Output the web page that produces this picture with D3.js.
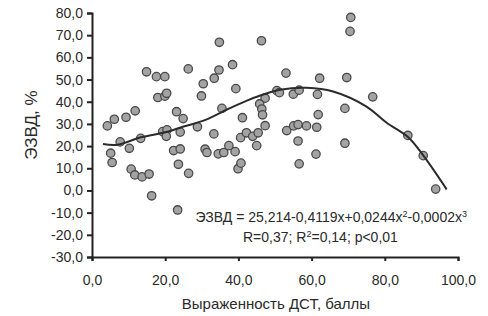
<!DOCTYPE html>
<html>
<head>
<meta charset="utf-8">
<script src="https://cdn.jsdelivr.net/npm/d3@7"></script>
<style>
  body { margin: 0; background: #fff; }
  text { font-family: "Liberation Sans", Arial, sans-serif; fill: #2a2a2a; }
</style>
</head>
<body>
<script>
// valeurs : score DST (x) et ЭЗВД % (y)
const dstScores = [4.2, 6.1, 9.3, 11.8, 14.9, 17.6, 19.9, 18.0, 19.9, 20.4, 26.3, 23.1, 24.9, 28.8, 30.4,
  29.9, 33.4, 34.7, 34.8, 35.5, 38.4, 39.3, 41.1, 33.3, 13.3, 19.3, 20.5, 24.1, 40.6, 42.2,
  7.7, 5.1, 5.5, 10.2, 10.7, 11.7, 13.7, 15.6, 16.3, 20.3, 22.3, 24.1, 23.6, 26.4, 23.4,
  30.9, 31.4, 34.5, 36.0, 37.4, 39.1, 39.9, 40.7, 43.9, 45.4, 45.0, 46.3, 53.0, 50.5, 51.2,
  55.0, 56.6, 47.3, 45.8, 46.4, 46.6, 47.3, 53.2, 55.1, 56.3, 58.6, 61.4, 56.3, 56.6, 61.6,
  62.2, 69.6, 70.7, 70.5, 61.8, 69.1, 69.1, 61.2, 76.7, 86.3, 90.5, 93.9]
const ezvdValues = [29.1, 32.1, 33.0, 35.9, 53.5, 51.3, 51.3, 41.9, 42.5, 43.8, 54.8, 35.5, 32.4, 28.7, 48.1,
  42.6, 50.6, 54.3, 66.8, 37.0, 56.7, 45.9, 32.8, 25.5, 23.5, 26.5, 27.3, 26.3, 23.8, 26.0,
  21.9, 16.8, 12.6, 19.0, 9.6, 7.0, 6.1, 7.4, -2.4, 24.4, 18.0, 18.7, 11.8, 7.7, -8.8,
  18.6, 17.1, 16.5, 17.1, 20.2, 17.5, 9.8, 12.3, 24.4, 26.0, 20.2, 67.5, 52.9, 45.0, 44.1,
  43.4, 45.2, 41.6, 39.0, 36.7, 34.1, 29.2, 27.0, 29.1, 29.7, 29.1, 28.5, 22.3, 12.0, 43.3,
  50.6, 50.9, 78.0, 71.7, 34.2, 37.0, 21.3, 16.4, 42.2, 24.8, 15.7, 0.6]

const trendX = [3, 7, 13.4, 20, 25, 31, 37, 42, 46.4, 51.4, 58.7, 65.9, 75, 80.5, 86.4, 90.5, 96.9]
const trendY = [20.9, 20.6, 24.0, 26.2, 28.8, 31.8, 36.6, 40.3, 43.0, 45.4, 46.3, 44.6, 37.8, 30.5, 24.0, 15.8, 0.5]

const xTicks = [0, 20, 40, 60, 80, 100]
const yTicks = [-30, -20, -10, 0, 10, 20, 30, 40, 50, 60, 70, 80]

const width = 488
const height = 316
const plot = { left: 92, right: 458, top: 13, bottom: 257 }

// format russe : virgule décimale, tiret simple
const locale = d3.formatLocale({ decimal: ",", thousands: " ", grouping: [3], currency: ["", ""], minus: "-" })
const fmt = locale.format(".1f")

let svg = d3.select("body")
  .append("svg")
  .attr("width", width)
  .attr("height", height)

let x = d3.scaleLinear().domain([0, 100]).range([plot.left, plot.right])
let y = d3.scaleLinear().domain([-30, 80]).range([plot.bottom, plot.top])

// axe y
let yAxis = svg.append("g")
  .attr("transform", "translate(" + plot.left + ",0)")
  .call(d3.axisLeft(y).tickValues(yTicks).tickFormat(fmt).tickSize(5).tickPadding(4))
yAxis.select(".domain").attr("stroke", "#222").attr("stroke-width", 2)
yAxis.selectAll(".tick line").attr("stroke", "#222").attr("stroke-width", 2)
yAxis.selectAll("text").attr("font-size", 14).attr("fill", "#333")

// axe x
let xAxis = svg.append("g")
  .attr("transform", "translate(0," + plot.bottom + ")")
  .call(d3.axisBottom(x).tickValues(xTicks).tickFormat(fmt).tickSize(4).tickPadding(14))
xAxis.select(".domain").attr("stroke", "#222").attr("stroke-width", 2)
xAxis.selectAll(".tick line").attr("stroke", "#222").attr("stroke-width", 2)
xAxis.selectAll("text").attr("font-size", 14).attr("fill", "#333")

// points
let points = dstScores.map((d, i) => ({ x: d, y: ezvdValues[i] }))
svg.selectAll("circle")
  .data(points)
  .enter()
  .append("circle")
  .attr("cx", d => x(d.x))
  .attr("cy", d => y(d.y))
  .attr("r", 4.2)
  .attr("fill", "#a3a3a3")
  .attr("stroke", "#4a4a4a")
  .attr("stroke-width", 1.3)

// courbe
let line = d3.line()
  .x((d, i) => x(trendX[i]))
  .y(d => y(d))
  .curve(d3.curveCatmullRom)
svg.append("path")
  .attr("d", line(trendY))
  .attr("fill", "none")
  .attr("stroke", "#2b2b2b")
  .attr("stroke-width", 2)

// titres des axes
svg.append("text")
  .attr("x", (plot.left + plot.right) / 2 + 1)
  .attr("y", 309)
  .attr("text-anchor", "middle")
  .attr("font-size", 15)
  .text("Выраженность ДСТ, баллы")

svg.append("text")
  .attr("transform", "translate(37,125) rotate(-90)")
  .attr("text-anchor", "middle")
  .attr("font-size", 17)
  .text("ЭЗВД, %")

// équation
let eq = svg.append("text")
  .attr("x", 467)
  .attr("y", 222)
  .attr("text-anchor", "end")
  .attr("font-size", 14)
eq.append("tspan").text("ЭЗВД = 25,214-0,4119x+0,0244x")
eq.append("tspan").attr("font-size", 9).attr("dy", -5).text("2")
eq.append("tspan").attr("dy", 5).text("-0,0002x")
eq.append("tspan").attr("font-size", 9).attr("dy", -5).text("3")

let stat = svg.append("text")
  .attr("x", 243)
  .attr("y", 242)
  .attr("font-size", 14)
stat.append("tspan").text("R=0,37; R")
stat.append("tspan").attr("font-size", 9).attr("dy", -5).text("2")
stat.append("tspan").attr("dy", 5).text("=0,14; p<0,01")
</script>
</body>
</html>
